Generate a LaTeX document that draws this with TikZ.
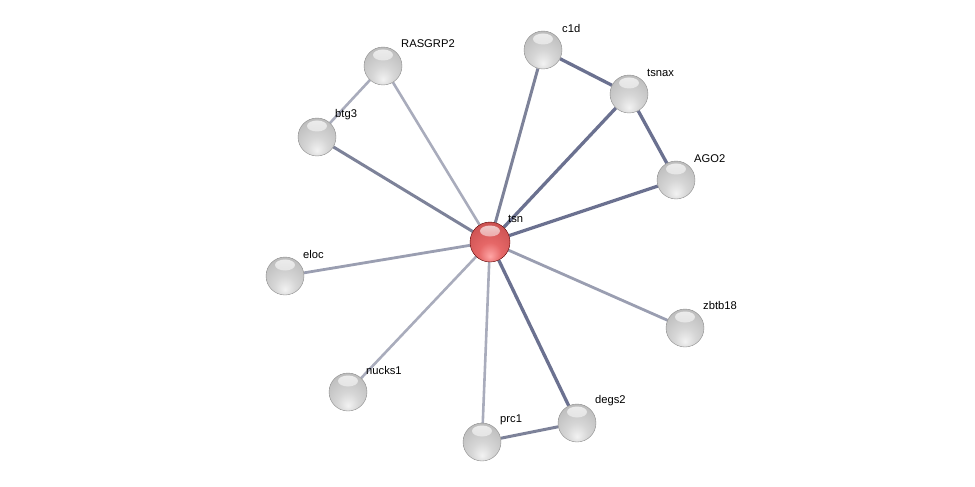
\documentclass[tikz,border=0pt]{standalone}
\usepackage{fontspec}
\setmainfont{Liberation Sans}
\usetikzlibrary{fadings,backgrounds}
\pgfdeclareradialshading{grayball}{\pgfpoint{0bp}{-18bp}}{%
  color(0bp)=(white!95!black);
  color(14bp)=(white!84!black);
  color(34bp)=(white!74!black);
  color(50bp)=(white!70!black);
  color(62bp)=(white!58!black);
  color(70bp)=(white!50!black)}
\pgfdeclareradialshading{redball}{\pgfpoint{0bp}{-18bp}}{%
  color(0bp)=(red!35!white);
  color(14bp)=(red!55!white!90!black);
  color(34bp)=(red!60!white!80!black);
  color(50bp)=(red!62!white!72!black);
  color(62bp)=(red!65!black);
  color(70bp)=(red!50!black)}
\tikzfading[name=hlfade, top color=transparent!25, bottom color=transparent!100]
\definecolor{edgedark}{HTML}{6B7190}
\definecolor{edgemid}{HTML}{7D8299}
\definecolor{edgesoft}{HTML}{9A9EB1}
\definecolor{edgelight}{HTML}{A9ACBC}
\tikzset{
  sphere/.style={circle, minimum size=38pt, inner sep=0pt, draw=black!45, line width=0.4pt,
    shading=grayball,
    path picture={\fill[white, path fading=hlfade]
      ([yshift=11pt]path picture bounding box.center) ellipse (10pt and 5.5pt);}},
  redsphere/.style={sphere, minimum size=40pt, draw=red!35!black, shading=redball},
  lbl/.style={anchor=west, inner sep=0pt, font=\fontsize{11.2}{13}\selectfont},
  edark/.style={draw=edgedark, line width=3.3pt},
  emid/.style={draw=edgemid, line width=3pt},
  esoft/.style={draw=edgesoft, line width=2.8pt},
  elight/.style={draw=edgelight, line width=2.6pt},
}
\begin{document}
\begin{tikzpicture}[x=1pt,y=-1pt]
\useasboundingbox (0,0) rectangle (975,487);
\node[redsphere] (tsn) at (490,242) {};
\node[sphere] (rasgrp2) at (383,66) {};
\node[sphere] (btg3) at (317,137) {};
\node[sphere] (c1d) at (543,50) {};
\node[sphere] (tsnax) at (629,94) {};
\node[sphere] (ago2) at (676,180) {};
\node[sphere] (eloc) at (285,276) {};
\node[sphere] (zbtb18) at (685,328) {};
\node[sphere] (nucks1) at (348,392) {};
\node[sphere] (prc1) at (482,442) {};
\node[sphere] (degs2) at (577,423) {};
\node[lbl] (ltsn) at (508,219) {tsn};
\node[lbl] (lrasgrp2) at (401,44) {RASGRP2};
\node[lbl] (lbtg3) at (335,115) {btg3};
\node[lbl] (lc1d) at (562,28) {c1d};
\node[lbl] (ltsnax) at (647,73) {tsnax};
\node[lbl] (lago2) at (694,159) {AGO2};
\node[lbl] (leloc) at (303,254) {eloc};
\node[lbl] (lzbtb18) at (703,305) {zbtb18};
\node[lbl] (lnucks1) at (366,370) {nucks1};
\node[lbl] (lprc1) at (500,420) {prc1};
\node[lbl] (ldegs2) at (595,401) {degs2};
\begin{scope}[on background layer]
\draw[elight] (tsn) -- (rasgrp2);
\draw[elight] (rasgrp2) -- (btg3);
\draw[emid] (tsn) -- (btg3);
\draw[emid] (tsn) -- (c1d);
\draw[edark] (c1d) -- (tsnax);
\draw[edark] (tsn) -- (tsnax);
\draw[edark] (tsnax) -- (ago2);
\draw[edark] (tsn) -- (ago2);
\draw[esoft] (tsn) -- (eloc);
\draw[esoft] (tsn) -- (zbtb18);
\draw[elight] (tsn) -- (nucks1);
\draw[elight] (tsn) -- (prc1);
\draw[edark] (tsn) -- (degs2);
\draw[emid] (prc1) -- (degs2);
\end{scope}
\end{tikzpicture}
\end{document}
